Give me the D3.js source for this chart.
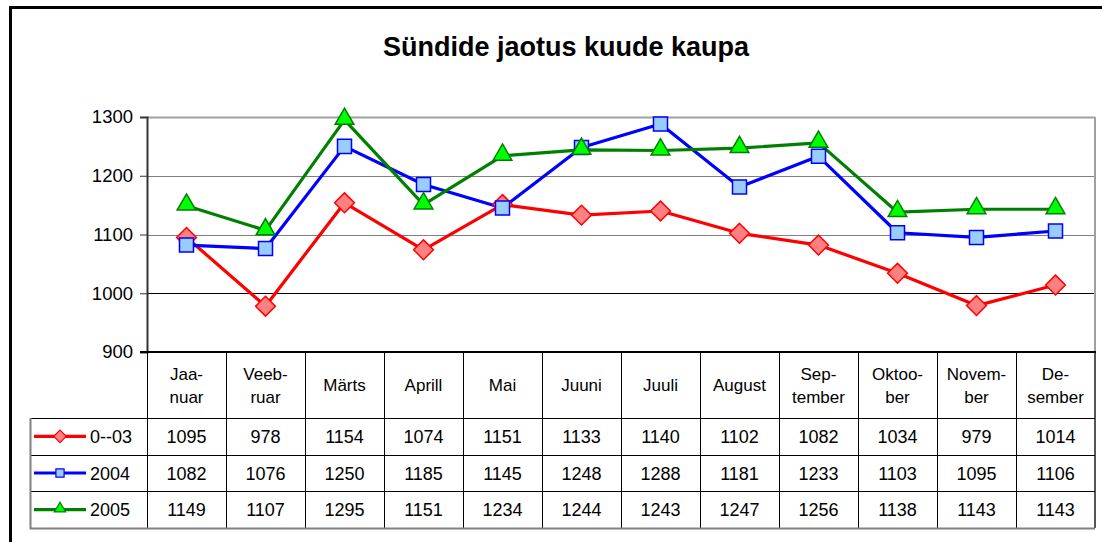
<!DOCTYPE html>
<html>
<head>
<meta charset="utf-8">
<script src="https://cdn.jsdelivr.net/npm/d3@7"></script>
<style>
  html, body { margin: 0; padding: 0; background: #fff; }
  text { font-family: Arial, "Liberation Sans", sans-serif; fill: #000; }
</style>
</head>
<body>
<div id="chart"></div>
<script>
const months = ['Jaa-\nnuar', 'Veeb-\nruar', 'Märts', 'Aprill', 'Mai', 'Juuni', 'Juuli', 'August',
  'Sep-\ntember', 'Oktoo-\nber', 'Novem-\nber', 'De-\nsember'];
const seriesNames = ['0--03', '2004', '2005'];
const values0003 = [1095, 978, 1154, 1074, 1151, 1133, 1140, 1102, 1082, 1034, 979, 1014];
const values2004 = [1082, 1076, 1250, 1185, 1145, 1248, 1288, 1181, 1233, 1103, 1095, 1106];
const values2005 = [1149, 1107, 1295, 1151, 1234, 1244, 1243, 1247, 1256, 1138, 1143, 1143];
const yTicks = [900, 1000, 1100, 1200, 1300];

const W = 1102, H = 542;
const plot = { left: 147, right: 1095, top: 117, bottom: 352 };
const table = { left: 30, headerBottom: 418, bottom: 528 };

const series = [
  { name: seriesNames[0], values: values0003, line: '#ff0000', fill: '#ff8080', stroke: '#ff0000', shape: 'diamond' },
  { name: seriesNames[1], values: values2004, line: '#0000ff', fill: '#99ccff', stroke: '#0000ff', shape: 'square' },
  { name: seriesNames[2], values: values2005, line: '#008000', fill: '#00ff00', stroke: '#008000', shape: 'triangle' },
];

const svg = d3.select('#chart').append('svg').attr('width', W).attr('height', H);

// outer frame (runs off the right/bottom edge)
svg.append('rect').attr('x', 10.5).attr('y', 7.5).attr('width', W + 20).attr('height', H + 20)
  .attr('fill', '#fff').attr('stroke', '#000').attr('stroke-width', 3);

svg.append('text').attr('x', 566).attr('y', 56).attr('text-anchor', 'middle')
  .style('font-size', '27px').style('font-weight', 'bold').text('Sündide jaotus kuude kaupa');

const x = d3.scaleBand().domain(d3.range(months.length)).range([plot.left, plot.right]);
const y = d3.scaleLinear().domain([900, 1300]).range([plot.bottom, plot.top]);

// gridlines
svg.append('g').selectAll('line').data(yTicks.filter(d => d > 900)).join('line')
  .attr('x1', plot.left).attr('x2', plot.right)
  .attr('y1', d => Math.round(y(d)) + 0.5).attr('y2', d => Math.round(y(d)) + 0.5)
  .attr('stroke', d => d === 1000 ? '#000' : (d === 1300 ? '#a0a0a0' : '#808080'))
  .attr('stroke-width', d => d === 1300 ? 2 : 1);

// plot right border
svg.append('line').attr('x1', plot.right).attr('x2', plot.right).attr('y1', plot.top).attr('y2', plot.bottom)
  .attr('stroke', '#a0a0a0').attr('stroke-width', 2);

// y axis
const yAxis = svg.append('g').attr('transform', `translate(${plot.left},0)`)
  .call(d3.axisLeft(y).tickValues(yTicks).tickSize(7).tickPadding(7).tickFormat(d3.format('d')));
yAxis.select('.domain').attr('stroke', '#333').attr('stroke-width', 2);
yAxis.selectAll('.tick line').attr('stroke', '#333');
yAxis.selectAll('.tick text').style('font-size', '18.5px').attr('fill', '#000');

// table
const nRows = series.length;
const rowH = (table.bottom - table.headerBottom) / nRows;
const tg = svg.append('g');
// column separators
tg.selectAll('line.col').data(d3.range(months.length + 1)).join('line').attr('class', 'col')
  .attr('x1', i => i < months.length ? x(i) : plot.right).attr('x2', i => i < months.length ? x(i) : plot.right)
  .attr('y1', plot.bottom).attr('y2', table.bottom)
  .attr('stroke', i => i === months.length ? '#555' : '#000').attr('stroke-width', i => i === months.length ? 2 : 1)
  .attr('shape-rendering', 'crispEdges');
// row separators
tg.selectAll('line.row').data(d3.range(nRows)).join('line').attr('class', 'row')
  .attr('x1', table.left).attr('x2', plot.right)
  .attr('y1', i => Math.round(table.headerBottom + i * rowH) + 0.5)
  .attr('y2', i => Math.round(table.headerBottom + i * rowH) + 0.5)
  .attr('stroke', '#000');
// outer grey edges of table
tg.append('path')
  .attr('d', `M${table.left + 0.5},${table.headerBottom} V${table.bottom + 0.5} H${plot.right}`)
  .attr('fill', 'none').attr('stroke', '#808080').attr('stroke-width', 2);

// bottom axis (900 line)
svg.append('line').attr('x1', plot.left - 7).attr('x2', plot.right + 1)
  .attr('y1', plot.bottom).attr('y2', plot.bottom).attr('stroke', '#000').attr('stroke-width', 2);

// header labels
const headers = tg.selectAll('text.hdr').data(months).join('text').attr('class', 'hdr')
  .attr('text-anchor', 'middle').style('font-size', '17px');
headers.each(function (d, i) {
  const lines = d.split('\n');
  const cx = x(i) + x.bandwidth() / 2;
  const cy = (plot.bottom + table.headerBottom) / 2;
  const lh = 23;
  d3.select(this).selectAll('tspan').data(lines).join('tspan')
    .attr('x', cx)
    .attr('y', (l, j) => cy + 6 + (j - (lines.length - 1) / 2) * lh)
    .text(l => l);
});

// values
series.forEach((s, r) => {
  const cy = table.headerBottom + (r + 0.5) * rowH;
  tg.selectAll(`text.v${r}`).data(s.values).join('text').attr('class', `v${r}`)
    .attr('x', (d, i) => x(i) + x.bandwidth() / 2).attr('y', cy + 6.5)
    .attr('text-anchor', 'middle').style('font-size', '18px').text(d => d);
});

function symbolPath(shape, size) {
  const t = shape === 'diamond' ? d3.symbolDiamond2 : shape === 'square' ? d3.symbolSquare2 : d3.symbolTriangle2;
  return d3.symbol().type(t).size(size)();
}
const markerSize = { diamond: 250, square: 250, triangle: 250 };
const legendSize = { diamond: 100, square: 85, triangle: 90 };

// lines and markers
const lineGen = d3.line().x((d, i) => x(i) + x.bandwidth() / 2).y(d => y(d));
series.forEach(s => {
  svg.append('path').datum(s.values).attr('d', lineGen)
    .attr('fill', 'none').attr('stroke', s.line).attr('stroke-width', 3.2).attr('stroke-linejoin', 'round');
});
series.forEach(s => {
  svg.append('g').selectAll('path').data(s.values).join('path')
    .attr('transform', (d, i) => `translate(${x(i) + x.bandwidth() / 2},${y(d) + (s.shape === 'triangle' ? -1 : 0)})`)
    .attr('d', symbolPath(s.shape, markerSize[s.shape]))
    .attr('fill', s.fill).attr('stroke', s.stroke).attr('stroke-width', 1.5);
});

// legend keys inside table
series.forEach((s, r) => {
  const cy = table.headerBottom + (r + 0.5) * rowH;
  const g = svg.append('g');
  g.append('line').attr('x1', 34).attr('x2', 86).attr('y1', cy).attr('y2', cy)
    .attr('stroke', s.line).attr('stroke-width', 3.2);
  g.append('path').attr('transform', `translate(60,${cy + (s.shape === 'triangle' ? -1 : 0)})`)
    .attr('d', symbolPath(s.shape, legendSize[s.shape]))
    .attr('fill', s.fill).attr('stroke', s.stroke).attr('stroke-width', 1.2);
  g.append('text').attr('x', 90).attr('y', cy + 6.5).style('font-size', '18px').text(s.name);
});
</script>
</body>
</html>
